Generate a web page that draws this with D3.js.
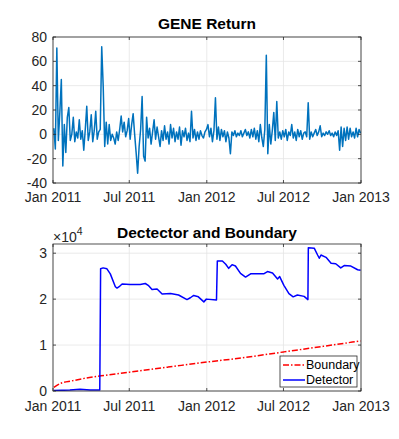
<!DOCTYPE html>
<html>
<head>
<meta charset="utf-8">
<script src="https://cdn.jsdelivr.net/npm/d3@7"></script>
<style>
  body { margin: 0; background: #fff; }
  text { font-family: "Liberation Sans", Arial, sans-serif; fill: #262626; }
</style>
</head>
<body>
<svg id="chart" width="399" height="439"></svg>
<script>
// GENE return series, evenly spaced between the two dates
const returnStart = "2011-01-03";
const returnEnd = "2012-12-31";
const returnValues = [
  5, -12, 71, -5, 18, 45, -26, 8, -15, 14,
  22, -5, 0, 14, -6, 2, -3, 12, -4, 3,
  -13, 4, 23, -5, 2, 16, -6, 3, 19, -4,
  2, 4, 72, 39, -10, 10, -8, 8, -5, 0,
  -3, -8, 2, -5, 4, 15, 2, 10, -2, 3,
  13, -4, 8, 17, 0, -15, -32, -10, 4, 31,
  -18, -22, 14, -3, 5, -8, 2, 12, -4, 6,
  -2, -10, 3, -5, 7, -4, 2, -8, 8, -3,
  5, -6, 2, -4, 6, -9, 3, -2, 5, -5,
  1, -6, 19, -3, 4, -5, 2, -4, 3, -1,
  -3, 2, 4, 8, -2, 5, -6, 3, 30, -4,
  6, -5, 4, -2, 3, -6, 2, -3, -16, 2,
  -1, 3, -2, 1, -1, 3, -2, 1, 4, -1,
  2, -3, 4, -2, 5, -4, 3, -6, 8, -3,
  -10, 4, 65, -16, 8, -8, 3, 18, -5, 27,
  -3, 2, -4, 3, -2, 4, -5, 2, -1, 8,
  -3, 2, -5, 4, -2, 3, -4, 1, 2, -2,
  26, -4, 2, -2, 1, 4, -1, 2, 7, -2,
  1, -1, 2, 0, 3, -1, 1, -2, 2, -1,
  3, -13, 6, -10, 5, -5, 6, -4, 5, -2,
  2, -3, 5, -2, 4, 1
];

const detectorDates = [
  "2011-01-03", "2011-02-10", "2011-03-06", "2011-03-30", "2011-04-22", "2011-04-24",
  "2011-04-30", "2011-05-09", "2011-05-17", "2011-05-29", "2011-06-02", "2011-06-07",
  "2011-06-14", "2011-07-03", "2011-07-27", "2011-08-08", "2011-08-15", "2011-08-24",
  "2011-09-05", "2011-09-17", "2011-10-07", "2011-10-26", "2011-11-15", "2011-11-23",
  "2011-12-01", "2011-12-12", "2011-12-25", "2011-12-31", "2012-01-24", "2012-01-26",
  "2012-02-07", "2012-02-15", "2012-02-22", "2012-03-01", "2012-03-09", "2012-03-21",
  "2012-04-02", "2012-04-14", "2012-05-15", "2012-05-24", "2012-06-05", "2012-06-17",
  "2012-06-22", "2012-07-02", "2012-07-14", "2012-07-24", "2012-08-03", "2012-08-19",
  "2012-08-28", "2012-08-29", "2012-09-12", "2012-09-20", "2012-09-24", "2012-09-28",
  "2012-10-10", "2012-10-22", "2012-11-02", "2012-11-14", "2012-11-22", "2012-12-08",
  "2012-12-24", "2012-12-31"
];
const detectorValues = [
  100, 200, 400, 200, 200, 26600,
  26800, 26600, 25500, 22700, 22400, 22700,
  23300, 23200, 23200, 23400, 23000, 22100,
  22200, 21100, 21200, 20900, 19900, 20300,
  20800, 20500, 19400, 20000, 19800, 28300,
  28300, 27600, 26700, 27500, 27200, 25600,
  24800, 25500, 25500, 26000, 25700, 24400,
  24900, 23000, 21200, 20500, 20900, 20600,
  19900, 31200, 31100, 29600, 28900, 29600,
  29100, 27800, 27700, 26800, 27300, 27200,
  26400, 26300
];

const boundaryDates = [
  "2011-01-03", "2011-01-20", "2011-02-15", "2011-03-20", "2011-04-25", "2011-07-01",
  "2011-10-01", "2012-01-01", "2012-04-01", "2012-07-01", "2012-10-01", "2012-12-31"
];
const boundaryValues = [800, 1700, 2200, 2800, 3300, 4100, 5200, 6300, 7300, 8500, 9700, 10900];

const xTickDates = ["2011-01-01", "2011-07-01", "2012-01-01", "2012-07-01", "2013-01-01"];
const xTickLabels = ["Jan 2011", "Jul 2011", "Jan 2012", "Jul 2012", "Jan 2013"];
const topTicks = [-40, -20, 0, 20, 40, 60, 80];
const bottomTicks = [0, 10000, 20000, 30000];
const legendLabels = ["Boundary", "Detector"];

const parse = d3.utcParse("%Y-%m-%d");
const svg = d3.select("#chart");
const axisColor = "#262626";
const gridColor = "#e5e5e5";

const left = 53, right = 361;
const x = d3.scaleUtc()
  .domain([parse("2011-01-01"), parse("2013-01-01")])
  .range([left, right]);

function drawFrame(y, top, bottom, yTicks, title, titleY, id) {
  const g = svg.append("g");
  // grid
  g.selectAll(".gx").data(xTickDates).enter().append("line")
    .attr("x1", d => x(parse(d))).attr("x2", d => x(parse(d)))
    .attr("y1", top).attr("y2", bottom)
    .attr("stroke", gridColor).attr("stroke-width", 0.8);
  g.selectAll(".gy").data(yTicks).enter().append("line")
    .attr("x1", left).attr("x2", right)
    .attr("y1", d => y(d)).attr("y2", d => y(d))
    .attr("stroke", gridColor).attr("stroke-width", 0.8);

  svg.append("clipPath").attr("id", id).append("rect")
    .attr("x", left).attr("y", top).attr("width", right - left).attr("height", bottom - top);

  // title
  svg.append("text").attr("x", (left + right) / 2).attr("y", titleY)
    .attr("text-anchor", "middle").attr("font-weight", "bold").attr("font-size", "15.5px")
    .style("fill", "#000").text(title);
  return g;
}

function drawAxes(y, top, bottom, yTicks, yFormat, labelY) {
  const g = svg.append("g");
  g.append("rect").attr("x", left).attr("y", top)
    .attr("width", right - left).attr("height", bottom - top)
    .attr("fill", "none").attr("stroke", axisColor).attr("stroke-width", 0.8);

  // x ticks, inside the box, bottom and top
  xTickDates.forEach((d, i) => {
    const px = x(parse(d));
    g.append("line").attr("x1", px).attr("x2", px).attr("y1", bottom).attr("y2", bottom - 3)
      .attr("stroke", axisColor).attr("stroke-width", 0.8);
    g.append("line").attr("x1", px).attr("x2", px).attr("y1", top).attr("y2", top + 3)
      .attr("stroke", axisColor).attr("stroke-width", 0.8);
    g.append("text").attr("x", px).attr("y", labelY)
      .attr("text-anchor", "middle").attr("font-size", "14px").text(xTickLabels[i]);
  });
  yTicks.forEach(d => {
    const py = y(d);
    g.append("line").attr("x1", left).attr("x2", left + 3).attr("y1", py).attr("y2", py)
      .attr("stroke", axisColor).attr("stroke-width", 0.8);
    g.append("line").attr("x1", right).attr("x2", right - 3).attr("y1", py).attr("y2", py)
      .attr("stroke", axisColor).attr("stroke-width", 0.8);
    g.append("text").attr("x", left - 6).attr("y", py).attr("dy", "0.35em")
      .attr("text-anchor", "end").attr("font-size", "14px").text(yFormat(d));
  });
}

// ---- top: GENE Return ----
const topTop = 37, topBottom = 183;
const yTop = d3.scaleLinear().domain([-40, 80]).range([topBottom, topTop]);
drawFrame(yTop, topTop, topBottom, topTicks, "GENE Return", 29, "clipTop");

const t0 = parse(returnStart).getTime(), t1 = parse(returnEnd).getTime();
const returnData = returnValues.map((v, i) => ({
  date: new Date(t0 + (t1 - t0) * i / (returnValues.length - 1)),
  value: v
}));
svg.append("path").datum(returnData)
  .attr("clip-path", "url(#clipTop)")
  .attr("fill", "none").attr("stroke", "#0072BD").attr("stroke-width", 1.5)
  .attr("stroke-linejoin", "round")
  .attr("d", d3.line().x(d => x(d.date)).y(d => yTop(d.value)));
drawAxes(yTop, topTop, topBottom, topTicks, d => d, 201.5);

// ---- bottom: Detector and Boundary ----
const botTop = 244, botBottom = 391;
const yBot = d3.scaleLinear().domain([0, 32000]).range([botBottom, botTop]);
drawFrame(yBot, botTop, botBottom, bottomTicks, "Dectector and Boundary", 238, "clipBot");

const boundaryData = boundaryDates.map((d, i) => ({ date: parse(d), value: boundaryValues[i] }));
const detectorData = detectorDates.map((d, i) => ({ date: parse(d), value: detectorValues[i] }));

svg.append("path").datum(boundaryData)
  .attr("clip-path", "url(#clipBot)")
  .attr("fill", "none").attr("stroke", "#ff0000").attr("stroke-width", 1.5)
  .attr("stroke-dasharray", "6,2,1.5,2")
  .attr("d", d3.line().curve(d3.curveMonotoneX).x(d => x(d.date)).y(d => yBot(d.value)));
svg.append("path").datum(detectorData)
  .attr("clip-path", "url(#clipBot)")
  .attr("fill", "none").attr("stroke", "#0000ff").attr("stroke-width", 1.5)
  .attr("stroke-linejoin", "round")
  .attr("d", d3.line().x(d => x(d.date)).y(d => yBot(d.value)));
drawAxes(yBot, botTop, botBottom, bottomTicks, d => d / 10000, 411);

// exponent label
const expo = svg.append("text").attr("x", left).attr("y", 241.5).attr("font-size", "14px");
expo.append("tspan").text("\u00d710");
expo.append("tspan").attr("font-size", "10.5px").attr("dy", "-7").text("4");

// legend
const lg = svg.append("g");
lg.append("rect").attr("x", 280).attr("y", 356).attr("width", 77).attr("height", 31)
  .attr("fill", "#fff").attr("stroke", axisColor).attr("stroke-width", 0.8);
const legendColors = ["#ff0000", "#0000ff"];
const legendDash = ["6,2,1.5,2", null];
legendLabels.forEach((label, i) => {
  const ly = 365 + i * 15;
  lg.append("line").attr("x1", 283).attr("x2", 305).attr("y1", ly).attr("y2", ly)
    .attr("stroke", legendColors[i]).attr("stroke-width", 1.5)
    .attr("stroke-dasharray", legendDash[i]);
  lg.append("text").attr("x", 306).attr("y", ly).attr("dy", "0.35em")
    .attr("font-size", "12.5px").style("fill", "#000").text(label);
});
</script>
</body>
</html>
